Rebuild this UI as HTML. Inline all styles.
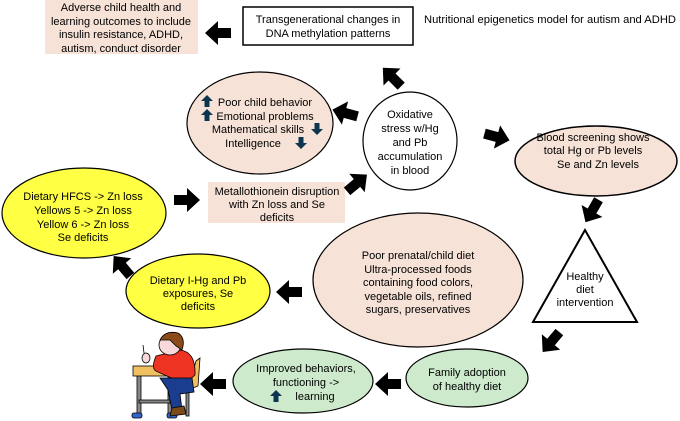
<!DOCTYPE html>
<html><head><meta charset="utf-8"><style>
html,body{margin:0;padding:0;background:#fff;}
svg{display:block;font-family:"Liberation Sans",sans-serif;font-size:11px;}
</style></head><body>
<svg width="680" height="421" viewBox="0 0 680 421" xmlns="http://www.w3.org/2000/svg">
<defs>
<polygon id="ar" points="-13,-5 0,-5 0,-12 13,0 0,12 0,5 -13,5" fill="#000"/>
<polygon id="up" points="-2.5,6 2.5,6 2.5,0 6,0 0,-6 -6,0 -2.5,0" fill="#0d3550"/>
</defs>
<rect x="45" y="0" width="153" height="54" fill="#f6e2d7"/>
<g text-anchor="middle" fill="#000">
<text x="121" y="11">Adverse child health and</text>
<text x="121" y="25">learning outcomes to include</text>
<text x="121" y="38">insulin resistance, ADHD,</text>
<text x="121" y="52">autism, conduct disorder</text>
</g>
<rect x="243" y="7" width="170" height="38" fill="#fff" stroke="#000" stroke-width="1.5"/>
<g text-anchor="middle">
<text x="328" y="23">Transgenerational changes in</text>
<text x="328" y="37">DNA methylation patterns</text>
</g>
<text x="424" y="23" textLength="252" lengthAdjust="spacingAndGlyphs">Nutritional epigenetics model for autism and ADHD</text>

<ellipse cx="260" cy="123" rx="73" ry="51" fill="#f6e2d7" stroke="#000" stroke-width="1.2"/>
<g text-anchor="middle">
<text x="265" y="106">Poor child behavior</text>
<text x="265" y="120">Emotional problems</text>
<text x="258" y="133">Mathematical skills</text>
<text x="253" y="147">Intelligence</text>
</g>
<use href="#up" x="207" y="101"/>
<use href="#up" x="207" y="115"/>
<use href="#up" transform="translate(317,129) rotate(180)"/>
<use href="#up" transform="translate(301,143) rotate(180)"/>

<ellipse cx="410" cy="141" rx="47" ry="49" fill="#fff" stroke="#000" stroke-width="1.2"/>
<g text-anchor="middle">
<text x="410" y="118">Oxidative</text>
<text x="410" y="132">stress w/Hg</text>
<text x="410" y="146">and Pb</text>
<text x="410" y="160">accumulation</text>
<text x="410" y="174">in blood</text>
</g>

<ellipse cx="596" cy="161" rx="81" ry="35" fill="#f6e2d7" stroke="#000" stroke-width="1.5"/>
<g text-anchor="middle">
<text x="593" y="141">Blood screening shows</text>
<text x="593" y="154">total Hg or Pb levels</text>
<text x="598" y="168">Se and Zn levels</text>
</g>

<rect x="208" y="182" width="137" height="41" fill="#f6e2d7"/>
<g text-anchor="middle">
<text x="277" y="195">Metallothionein disruption</text>
<text x="277" y="208">with Zn loss and Se</text>
<text x="277" y="221">deficits</text>
</g>

<ellipse cx="84" cy="213" rx="82" ry="45" fill="#ffff44" stroke="#000" stroke-width="1.2"/>
<g text-anchor="middle">
<text x="83" y="200">Dietary HFCS  -&gt; Zn loss</text>
<text x="83" y="214">Yellows 5 -&gt; Zn loss</text>
<text x="83" y="228">Yellow 6 -&gt; Zn loss</text>
<text x="83" y="241">Se deficits</text>
</g>

<ellipse cx="418" cy="280" rx="105" ry="67" fill="#f6e2d7" stroke="#000" stroke-width="1.2"/>
<g text-anchor="middle">
<text x="418" y="259">Poor prenatal/child diet</text>
<text x="418" y="273">Ultra-processed foods</text>
<text x="418" y="286">containing food colors,</text>
<text x="418" y="300">vegetable oils, refined</text>
<text x="418" y="313">sugars, preservatives</text>
</g>

<polygon points="585,230 533,322 637,322" fill="#fff" stroke="#000" stroke-width="2"/>
<g text-anchor="middle">
<text x="585" y="280">Healthy</text>
<text x="585" y="293">diet</text>
<text x="585" y="306">intervention</text>
</g>

<ellipse cx="198" cy="291" rx="72" ry="37" fill="#ffff44" stroke="#000" stroke-width="1.2"/>
<g text-anchor="middle">
<text x="198" y="284">Dietary I-Hg and Pb</text>
<text x="198" y="297">exposures, Se</text>
<text x="198" y="310">deficits</text>
</g>

<ellipse cx="467" cy="378" rx="61" ry="29" fill="#cdebcc" stroke="#000" stroke-width="1.2"/>
<g text-anchor="middle">
<text x="467" y="376">Family adoption</text>
<text x="467" y="390">of healthy diet</text>
</g>

<ellipse cx="303" cy="381" rx="70" ry="32" fill="#cdebcc" stroke="#000" stroke-width="1.2"/>
<g text-anchor="middle">
<text x="306" y="372">Improved behaviors,</text>
<text x="306" y="386">functioning -&gt;</text>
<text x="315" y="400">learning</text>
</g>
<use href="#up" x="276" y="396"/>

<g stroke="#000" stroke-width="0.8">
<rect x="137" y="371" width="4" height="43" fill="#888"/>
<rect x="168" y="371" width="4" height="43" fill="#888"/>
<rect x="139" y="400" width="31" height="3" fill="#888"/>
<rect x="133" y="366" width="42" height="10" fill="#f0c060"/>
<rect x="132" y="413" width="10" height="5" rx="2" fill="#3366cc"/>
<rect x="167" y="413" width="10" height="5" rx="2" fill="#3366cc"/>
<path d="M196,361 L200,358 L198,386 L188,390 Z" fill="#f0c060"/>
<rect x="186" y="388" width="3" height="28" fill="#888"/>
<path d="M156,356 L180,350 Q196,352 195,375 L185,384 L158,372 Q150,370 156,356 Z" fill="#ee3322"/>
<path d="M160,378 L192,378 L194,392 L180,394 L182,410 L172,410 L168,390 Z" fill="#1a3d8f"/>
<path d="M172,408 L184,406 L186,414 L170,416 Z" fill="#7a4a1a"/>
<ellipse cx="170" cy="345" rx="11" ry="10" fill="#f8d8d8"/>
<path d="M160,340 Q165,330 178,333 Q186,338 182,350 L176,346 L170,340 Z" fill="#8b4a1a"/>
<ellipse cx="146" cy="358" rx="4" ry="5" fill="#f8d8d8"/>
<line x1="144" y1="353" x2="143" y2="345"/>
</g>

<use href="#ar" transform="translate(218,33) rotate(180)"/>
<use href="#ar" transform="translate(392,77) rotate(-135)"/>
<use href="#ar" transform="translate(345,113) rotate(195)"/>
<use href="#ar" transform="translate(497,137) rotate(15)"/>
<use href="#ar" transform="translate(592,211) rotate(120)"/>
<use href="#ar" transform="translate(551,342) rotate(130)"/>
<use href="#ar" transform="translate(388,384) rotate(180)"/>
<use href="#ar" transform="translate(213,384) rotate(180)"/>
<use href="#ar" transform="translate(289,292) rotate(180)"/>
<use href="#ar" transform="translate(122,266) rotate(-130)"/>
<use href="#ar" transform="translate(187,200) rotate(0)"/>
<use href="#ar" transform="translate(357,183) rotate(-40)"/>
</svg>
</body></html>
